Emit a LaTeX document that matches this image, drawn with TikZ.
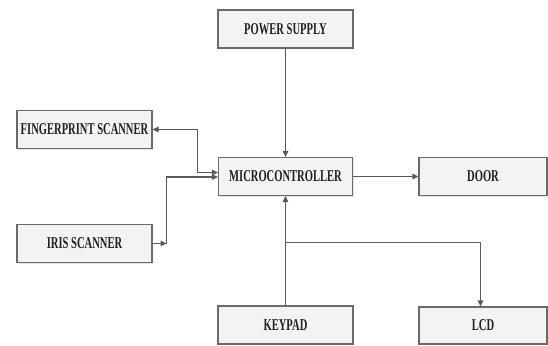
\documentclass[tikz,border=0pt]{standalone}
\usepackage{fontspec}
\newfontfamily\boxfont[FakeStretch=0.64]{Liberation Serif}
\usetikzlibrary{arrows.meta,shadows}
\definecolor{linec}{HTML}{5A5A5A}
\definecolor{boxline}{HTML}{6A6A6A}
\definecolor{boxfill}{HTML}{F3F3F3}
\definecolor{txt}{HTML}{202020}
\begin{document}
\begin{tikzpicture}[x=1pt,y=-1pt,
  blk/.style={draw=boxline, line width=1.1pt, fill=boxfill,
    drop shadow={opacity=0.22, shadow xshift=1.2pt, shadow yshift=-1.2pt},
    minimum height=38pt, inner sep=0pt, text=txt,
    font=\boxfont\bfseries\fontsize{16.5}{17}\selectfont},
  wideblk/.style={blk, minimum width=135pt},
  sideblk/.style={blk, minimum width=128pt},
  conn/.style={draw=linec, line width=1.1pt, -{Triangle[length=6pt,width=5.5pt]}},
  biconn/.style={draw=linec, line width=1.1pt, {Triangle[length=6pt,width=5.5pt]}-{Triangle[length=6pt,width=5.5pt]}}
]
\useasboundingbox (0,0) rectangle (548,345);
\node[wideblk] (power)  at (285.5,29)   {POWER SUPPLY};
\node[wideblk, minimum width=134pt] (micro) at (285.5,176.5) {MICROCONTROLLER};
\node[sideblk] (door)   at (483,176.5)  {DOOR};
\node[wideblk] (finger) at (84.5,129.5) {FINGERPRINT SCANNER};
\node[wideblk] (iris)   at (84.5,243.5) {IRIS SCANNER};
\node[wideblk] (keypad) at (285.5,325)  {KEYPAD};
\node[sideblk, minimum height=37pt] (lcd) at (483,325.5) {LCD};

\coordinate (fj) at (197.5,172.5);
\coordinate (ij) at (166.5,243.5);
\coordinate (kb) at (285.5,242.5);
\coordinate (lj) at (480.5,242.5);

\draw[conn] (power.south) -- (power.south |- micro.north);
\draw[biconn] (finger.east) -| (fj) -- (fj -| micro.west);
\draw[conn] (iris.east) -- (ij);
\draw[conn] (ij) |- ([yshift=-0.5pt]micro.west);
\draw[conn] (micro.east) -- (door.west);
\draw[conn] (keypad.north) -- (keypad.north |- micro.south);
\draw[conn] (kb) -- (lj) -- (lj |- lcd.north);
\end{tikzpicture}
\end{document}
